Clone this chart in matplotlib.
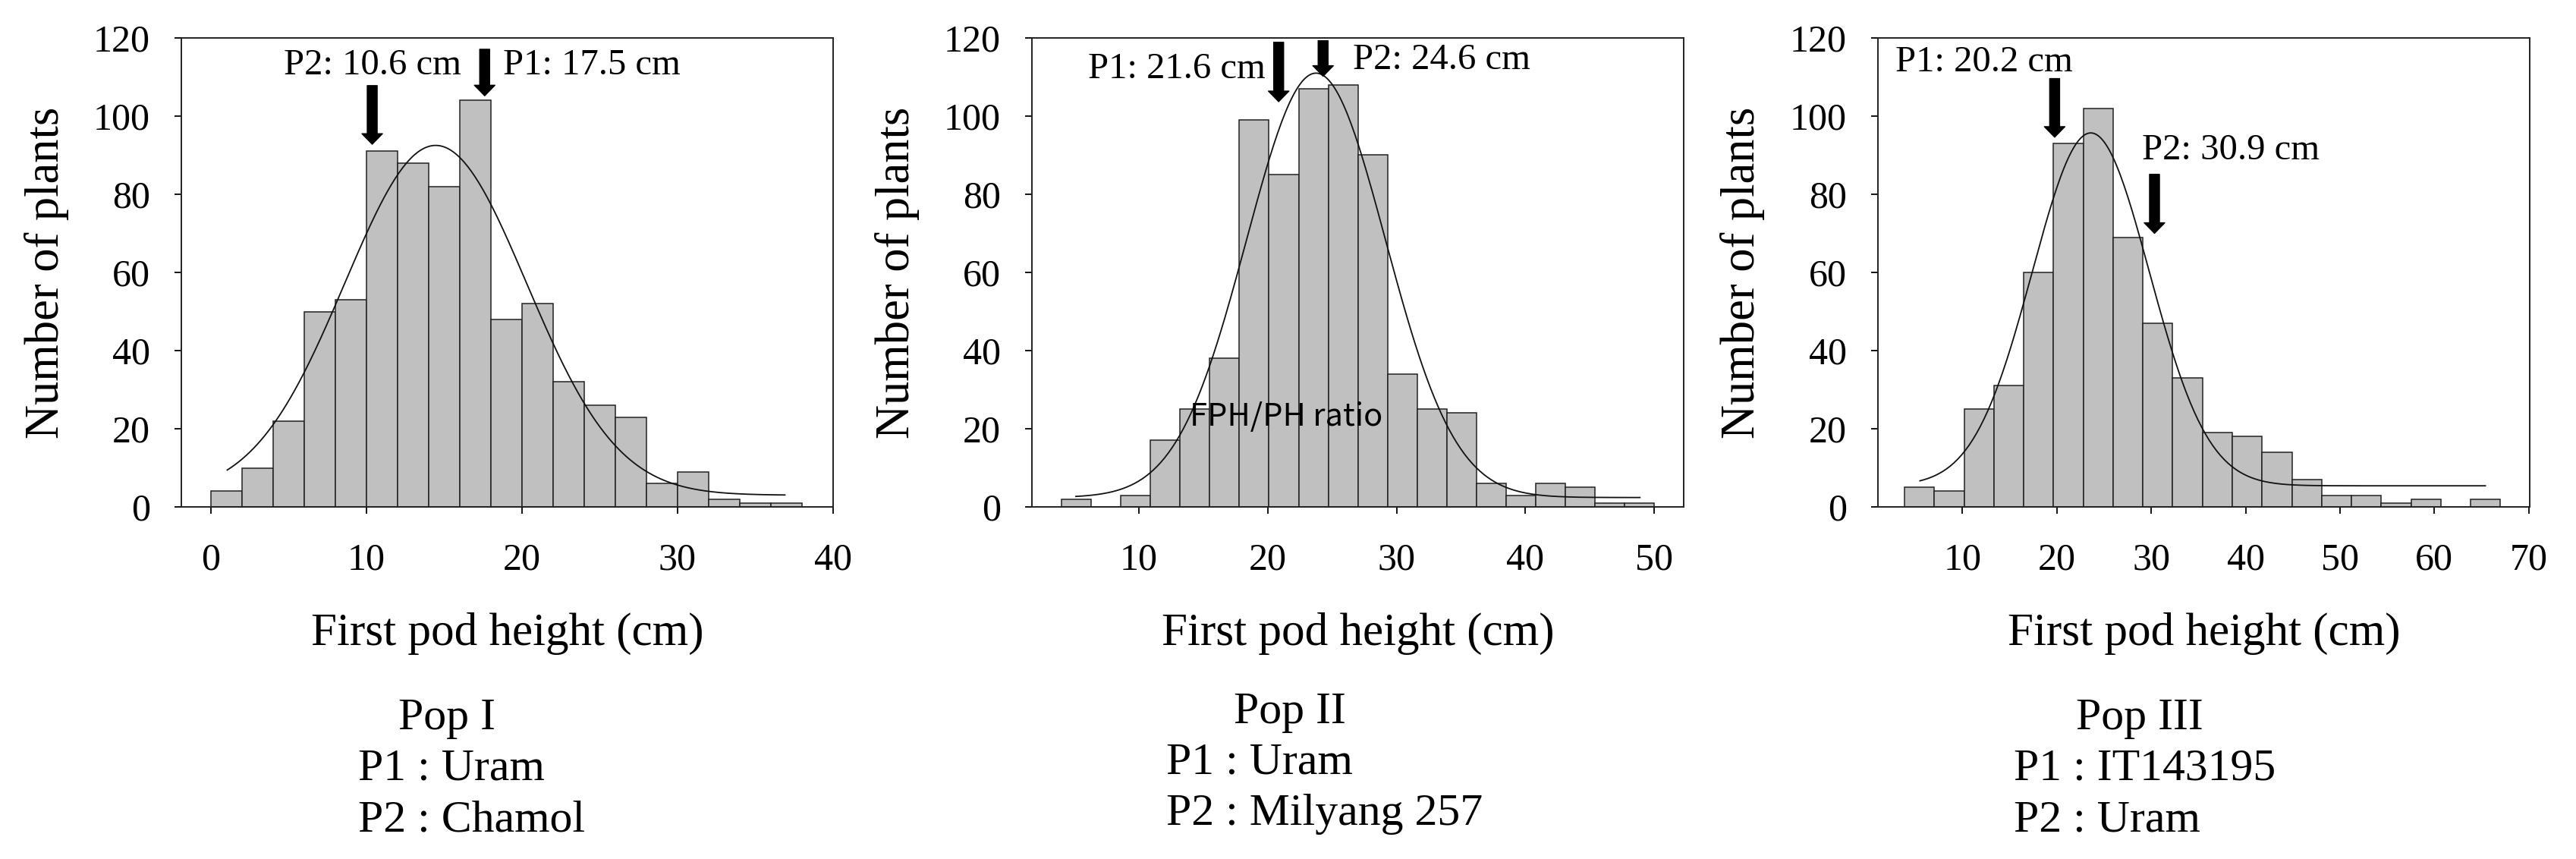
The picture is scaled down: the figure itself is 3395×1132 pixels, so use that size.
import numpy as np
import matplotlib
matplotlib.use("Agg")
import matplotlib.pyplot as plt

plt.rcParams['font.family'] = ['Liberation Serif', 'DejaVu Serif']

# histogram data for the three populations (bin start, bin width, counts)
pop1_start, pop1_width = 0.0, 2.0
pop1_counts = [4, 10, 22, 50, 53, 91, 88, 82, 104, 48, 52, 32, 26, 23, 6, 9, 2, 1, 1]

pop2_start, pop2_width = 4.0, 2.3
pop2_counts = [2, 0, 3, 17, 25, 38, 99, 85, 107, 108, 90, 34, 25, 24, 6, 3, 6, 5, 1, 1]

pop3_start, pop3_width = 3.86, 3.157
pop3_counts = [5, 4, 25, 31, 60, 93, 102, 69, 47, 33, 19, 18, 14, 7, 3, 3, 1, 2, 0, 2]

# fitted normal curves: mean, sd, peak height, baseline, x range
pop1_fit = dict(mean=14.45, sd=5.84, peak=89.5, base=3.0, xmin=1.05, xmax=36.9)
pop2_fit = dict(mean=23.75, sd=5.4, peak=108.6, base=2.4, xmin=5.1, xmax=48.9)
pop3_fit = dict(mean=23.6, sd=6.2, peak=90.3, base=5.4, xmin=5.5, xmax=65.4)

# parent arrows: (x, arrow top, arrow tip)
pop1_arrows = [(10.37, 107.8, 92.8), (17.6, 117.1, 105.2)]
pop2_arrows = [(20.85, 118.9, 103.7), (24.3, 119.3, 110.2)]
pop3_arrows = [(19.77, 109.6, 94.6), (30.35, 85.1, 70.0)]

pop1_notes = [("P2: 10.6 cm", 16.07, 110.6, 'right'), ("P1: 17.5 cm", 18.77, 110.6, 'left')]
pop2_notes = [("P1: 21.6 cm", 19.8, 109.8, 'right'), ("P2: 24.6 cm", 26.6, 112.0, 'left')]
pop3_notes = [("P1: 20.2 cm", 2.87, 111.5, 'left'), ("P2: 30.9 cm", 29.0, 89.0, 'left')]

pop1_xticks = [0, 10, 20, 30, 40]
pop2_xticks = [10, 20, 30, 40, 50]
pop3_xticks = [10, 20, 30, 40, 50, 60, 70]
yticks = [0, 20, 40, 60, 80, 100, 120]

pop_titles = ["Pop I", "Pop II", "Pop III"]
pop_p1 = ["P1 : Uram", "P1 : Uram", "P1 : IT143195"]
pop_p2 = ["P2 : Chamol", "P2 : Milyang 257", "P2 : Uram"]

W, H = 3395, 1132
fig = plt.figure(figsize=(W / 100, H / 100), dpi=100)

panels = [
    (239, (-1.9, 40.0), pop1_start, pop1_width, pop1_counts, pop1_fit, pop1_arrows, pop1_notes, pop1_xticks),
    (1360, (1.69, 52.3), pop2_start, pop2_width, pop2_counts, pop2_fit, pop2_arrows, pop2_notes, pop2_xticks),
    (2475, (1.05, 70.1), pop3_start, pop3_width, pop3_counts, pop3_fit, pop3_arrows, pop3_notes, pop3_xticks),
]

axes = []
for left, xlim, start, width, counts, fit, arrows, notes, xticks in panels:
    ax = fig.add_axes([left / W, (H - 668) / H, 859 / W, 618 / H])
    axes.append(ax)
    edges = start + width * np.arange(len(counts))
    ax.bar(edges, counts, width=width, align='edge', color='#c0c0c0',
           edgecolor='#222222', linewidth=1.1, zorder=2)

    xs = np.linspace(fit['xmin'], fit['xmax'], 300)
    ys = fit['base'] + fit['peak'] * np.exp(-(xs - fit['mean']) ** 2 / (2 * fit['sd'] ** 2))
    ax.plot(xs, ys, color='#111111', linewidth=1.3, zorder=3)

    for x, y0, y1 in arrows:
        ax.annotate('', xy=(x, y1), xytext=(x, y0),
                    arrowprops=dict(facecolor='black', edgecolor='black', width=9.4,
                                    headwidth=19.5, headlength=10, shrink=0), zorder=4)
    for txt, x, y, ha in notes:
        ax.text(x, y, txt, ha=ha, va='baseline', fontsize=35, zorder=5)

    ax.set_xlim(*xlim)
    ax.set_ylim(0, 120)
    ax.set_xticks(xticks)
    ax.set_yticks(yticks)
    ax.tick_params(direction='out', length=6.5, width=1.3, labelsize=36)
    ax.tick_params(axis='y', pad=23)
    ax.tick_params(axis='x', pad=27)
    for s in ax.spines.values():
        s.set_linewidth(1.4)
        s.set_color('#222222')
    ax.set_ylabel("Number of plants", fontsize=45)
    ax.yaxis.set_label_coords(-178 / 859, 0.5)
    ax.yaxis.label.set_va('center')
    ax.set_xlabel("First pod height (cm)", fontsize=44)
    ax.xaxis.set_label_coords(0.5, -167 / 618)
    ax.xaxis.label.set_va('center')

axes[1].text(13.96, 20.8, "FPH/PH ratio", ha='left', va='baseline', fontsize=30,
             family=['Noto Sans CJK KR', 'DejaVu Sans'], zorder=5)

# population captions under each panel
title_x = [589, 1700, 2820]
title_y = [961, 953, 961]
line_x = [472, 1537, 2654]
line_y = [(1028, 1096), (1020, 1087), (1028, 1096)]
for i in range(3):
    fig.text(title_x[i] / W, 1 - title_y[i] / H, pop_titles[i], ha='center', va='baseline', fontsize=43)
    fig.text(line_x[i] / W, 1 - line_y[i][0] / H, pop_p1[i], ha='left', va='baseline', fontsize=43)
    fig.text(line_x[i] / W, 1 - line_y[i][1] / H, pop_p2[i], ha='left', va='baseline', fontsize=43)

fig.savefig('out.png', dpi=100, facecolor='white')
